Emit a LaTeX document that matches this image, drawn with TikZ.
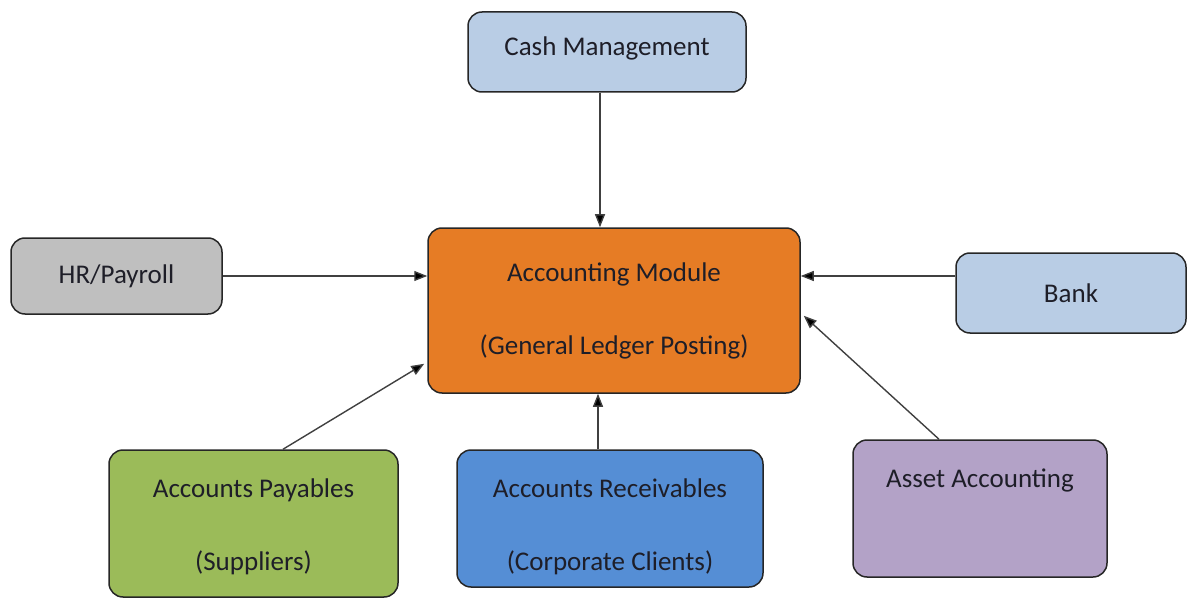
\documentclass[tikz,border=0pt]{standalone}
\usepackage{fontspec}
\setmainfont{Carlito}
\usetikzlibrary{arrows.meta,calc}
\definecolor{lblue}{HTML}{B9CDE5}
\definecolor{hrgray}{HTML}{BFBFBF}
\definecolor{accor}{HTML}{E67C25}
\definecolor{apgreen}{HTML}{9BBB59}
\definecolor{arblue}{HTML}{558ED5}
\definecolor{aspurple}{HTML}{B3A2C7}
\definecolor{txt}{HTML}{1E1E28}
\tikzset{
  box/.style={draw=black!85, line width=1.5pt, rounded corners=14pt, align=center,
    inner sep=0pt, font=\fontsize{27}{33}\selectfont, text=txt},
  boxtext/.style={align=center, inner sep=0pt, font=\fontsize{27}{33}\selectfont, text=txt},
  arr/.style={draw=black!75, line width=1.4pt, -{Triangle[length=13pt,width=10pt,fill=black]}}
}
\begin{document}
\begin{tikzpicture}[x=1pt,y=-1pt]
\useasboundingbox (0,0) rectangle (1187,599);
\node[box, fill=lblue, minimum width=278pt, minimum height=80pt] (cash) at (607,52) {};
\node[boxtext] (cashT) at (607,48) {Cash Management};
\node[box, fill=accor, minimum width=372pt, minimum height=165pt] (acc) at (614,310.5) {Accounting Module\\[40pt](General Ledger Posting)};
\node[box, fill=hrgray, minimum width=211pt, minimum height=76pt] (hr) at (116.5,276) {HR/Payroll};
\node[box, fill=lblue, minimum width=230pt, minimum height=80pt] (bank) at (1071,293) {Bank};
\node[box, fill=apgreen, minimum width=289pt, minimum height=147pt] (ap) at (253.5,523.5) {};
\node[boxtext] (apT) at (253.5,527) {Accounts Payables\\[40pt](Suppliers)};
\node[box, fill=arblue, minimum width=306pt, minimum height=137pt] (ar) at (610,518.5) {};
\node[boxtext] (arT) at (610,527) {Accounts Receivables\\[40pt](Corporate Clients)};
\node[box, fill=aspurple, minimum width=254pt, minimum height=137pt] (asset) at (980,508.5) {};
\node[boxtext] (assetT) at (980,480) {Asset Accounting};
\draw[arr] ([xshift=-7pt]cash.south) -- ([xshift=-14pt]acc.north);
\draw[arr] (hr.east) -- (acc.west |- hr.east);
\draw[arr] ([yshift=17pt]bank.west) -- ([yshift=34.5pt]acc.east);
\draw[arr] ([xshift=29.5pt]ap.north) -- ([xshift=-3pt,yshift=30pt]acc.south west);
\draw[arr] ([xshift=-12pt]ar.north) -- ([xshift=-16pt]acc.south);
\draw[arr] ([xshift=-41pt]asset.north) -- ([xshift=3pt,yshift=78pt]acc.south east);
\end{tikzpicture}
\end{document}
